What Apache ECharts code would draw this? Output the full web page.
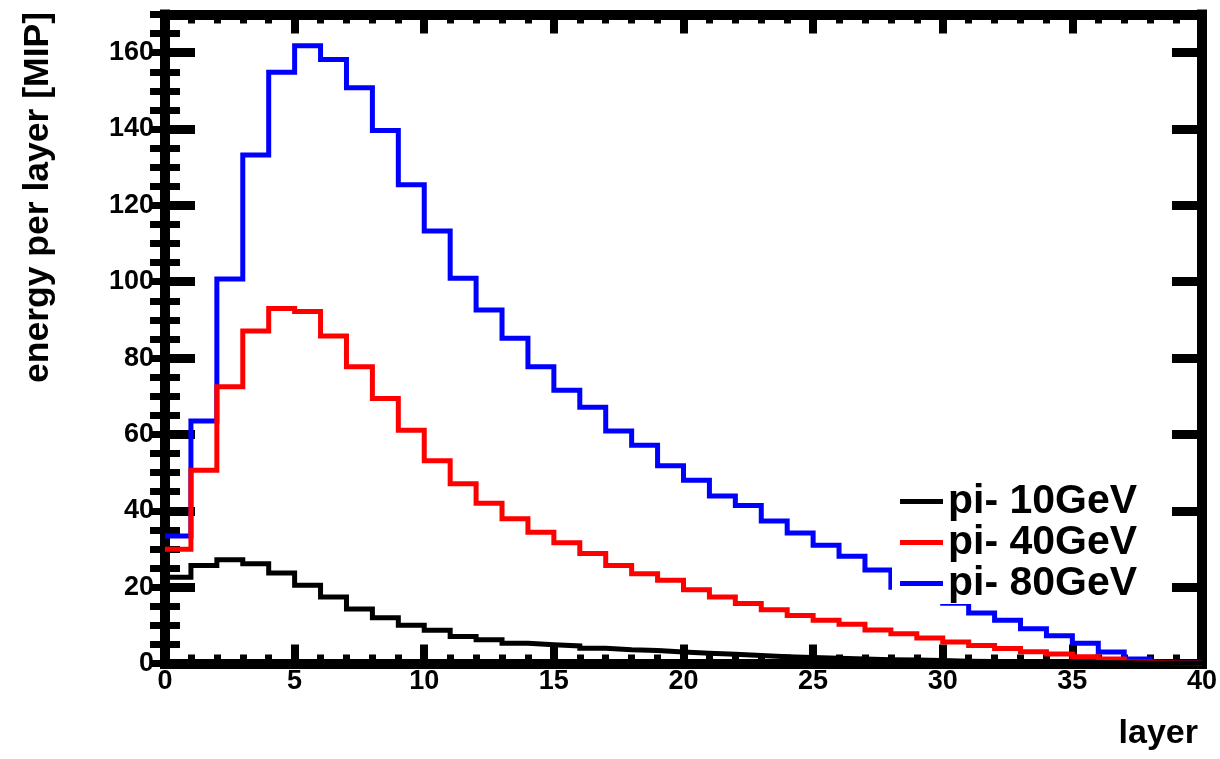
<!DOCTYPE html>
<html>
<head>
<meta charset="utf-8">
<script src="https://cdn.jsdelivr.net/npm/echarts@6/dist/echarts.min.js"></script>
<style>
html,body{margin:0;padding:0;background:#fff;}
#chart{width:1220px;height:759px;}
</style>
</head>
<body>
<div id="chart"></div>
<script>
// Layer bins 0..39 (histogram, bin i spans [i, i+1])
const layers = Array.from({length: 40}, (_, i) => i);
const e10 = [22.6, 25.7, 27.2, 26.1, 23.7, 20.5, 17.4, 14.3, 12.0, 10.0,
             8.7, 7.1, 6.2, 5.3, 4.9, 4.6, 4.0, 3.6, 3.4, 3.0,
             2.7, 2.4, 2.1, 1.8, 1.6, 1.4, 1.2, 1.0, 0.9, 0.8,
             0.6, 0.5, 0.4, 0.35, 0.3, 0.25, 0.2, 0.15, 0.1, 0.1];
const e40 = [29.9, 50.6, 72.5, 87.1, 93.0, 92.2, 85.8, 77.7, 69.4, 61.1,
             53.1, 47.1, 42.0, 37.9, 34.4, 31.6, 28.8, 25.7, 23.5, 21.8,
             19.3, 17.4, 15.7, 14.1, 12.6, 11.3, 10.3, 8.8, 7.8, 6.7,
             5.6, 4.7, 3.9, 3.1, 2.5, 1.8, 1.2, 0.4, 0.2, 0.1];
const e80 = [33.4, 63.5, 100.7, 133.2, 154.9, 161.8, 158.2, 150.8, 139.6, 125.4,
             113.3, 100.9, 92.6, 85.2, 77.7, 71.6, 67.1, 60.9, 57.2, 51.8,
             48.0, 43.9, 41.4, 37.3, 34.2, 31.0, 28.1, 24.5, 20.0, 17.5,
             15.8, 13.2, 11.3, 9.1, 7.3, 5.3, 3.0, 1.2, 0.3, 0.2];
const seriesNames = ['pi- 10GeV', 'pi- 40GeV', 'pi- 80GeV'];
const xTitle = 'layer';
const yTitle = 'energy per layer [MIP]';

const FONT = '"Liberation Sans", Arial, Helvetica, sans-serif';

function histData(vals) {
  const d = layers.map((l, i) => [l, vals[i]]);
  d.push([layers.length, vals[vals.length - 1]]);
  return d;
}

const chart = echarts.init(document.getElementById('chart'), null, {renderer: 'canvas'});

const frameLine = {show: true, onZero: false, lineStyle: {color: '#000', width: 10, cap: 'square'}};
const noLine = {show: false};

const option = {
  backgroundColor: '#fff',
  animation: false,
  grid: {left: 165, right: 16, top: 14.5, bottom: 95.5, containLabel: false},
  xAxis: [
    {
      type: 'value', min: 0, max: 40, interval: 5, position: 'bottom',
      axisLine: frameLine,
      axisTick: {show: true, inside: true, length: 19, lineStyle: {color: '#000', width: 8}},
      minorTick: {show: true, splitNumber: 5, length: 9, lineStyle: {color: '#000', width: 7}},
      splitLine: {show: false}, minorSplitLine: {show: false},
      axisLabel: {show: true, margin: 5, color: '#000', fontSize: 27, fontWeight: 'bold', fontFamily: FONT}
    },
    {
      type: 'value', min: 0, max: 40, interval: 5, position: 'top',
      axisLine: frameLine,
      axisTick: {show: true, inside: true, length: 19, lineStyle: {color: '#000', width: 8}},
      minorTick: {show: true, splitNumber: 5, length: 9, lineStyle: {color: '#000', width: 7}},
      splitLine: {show: false}, minorSplitLine: {show: false},
      axisLabel: {show: false}
    }
  ],
  yAxis: [
    {
      type: 'value', min: 0, max: 170, interval: 20, position: 'left',
      axisLine: frameLine,
      axisTick: {show: true, inside: true, length: 30, lineStyle: {color: '#000', width: 9}},
      splitLine: {show: false},
      axisLabel: {show: true, margin: 11, showMaxLabel: false, color: '#000', fontSize: 27, fontWeight: 'bold', fontFamily: FONT}
    },
    {
      type: 'value', min: 0, max: 170, interval: 5, position: 'left',
      axisLine: noLine,
      axisTick: {show: true, inside: true, length: 15, lineStyle: {color: '#000', width: 7}},
      splitLine: {show: false},
      axisLabel: {show: false}
    },
    {
      type: 'value', min: 0, max: 170, interval: 20, position: 'right',
      axisLine: frameLine,
      axisTick: {show: true, inside: true, length: 30, lineStyle: {color: '#000', width: 9}},
      splitLine: {show: false},
      axisLabel: {show: false}
    },
    {
      type: 'value', min: 0, max: 170, interval: 5, position: 'right',
      axisLine: noLine,
      axisTick: {show: true, inside: true, length: 15, lineStyle: {color: '#000', width: 7}},
      splitLine: {show: false},
      axisLabel: {show: false}
    }
  ],
  legend: {
    data: seriesNames,
    orient: 'vertical',
    left: 892, top: 476,
    padding: [5, 8, 0, 8],
    backgroundColor: '#fff',
    itemWidth: 43, itemHeight: 5, itemGap: 0, itemTextGap: 8,
    icon: 'rect',
    selectedMode: false,
    textStyle: {color: '#000', fontSize: 41, fontWeight: 'bold', fontFamily: FONT, lineHeight: 40}
  },
  graphic: [
    {
      type: 'text', x: 38, y: 12, rotation: Math.PI / 2,
      style: {text: yTitle, fill: '#000', fontSize: 35.5, fontWeight: 'bold', fontFamily: FONT,
              textAlign: 'right', textVerticalAlign: 'middle'}
    },
    {
      type: 'text', x: 1198, y: 734,
      style: {text: xTitle, fill: '#000', fontSize: 34, fontWeight: 'bold', fontFamily: FONT,
              textAlign: 'right', textVerticalAlign: 'middle'}
    }
  ],
  series: [
    {
      name: seriesNames[2], type: 'line', step: 'end', symbol: 'none', xAxisIndex: 0, yAxisIndex: 0,
      color: '#0000ff', lineStyle: {color: '#0000ff', width: 5, join: 'miter'},
      data: histData(e80), z: 2
    },
    {
      name: seriesNames[1], type: 'line', step: 'end', symbol: 'none', xAxisIndex: 0, yAxisIndex: 0,
      color: '#ff0000', lineStyle: {color: '#ff0000', width: 5, join: 'miter'},
      data: histData(e40), z: 2
    },
    {
      name: seriesNames[0], type: 'line', step: 'end', symbol: 'none', xAxisIndex: 0, yAxisIndex: 0,
      color: '#000000', lineStyle: {color: '#000000', width: 5, join: 'miter'},
      data: histData(e10), z: 2
    }
  ]
};

chart.setOption(option);
</script>
</body>
</html>
